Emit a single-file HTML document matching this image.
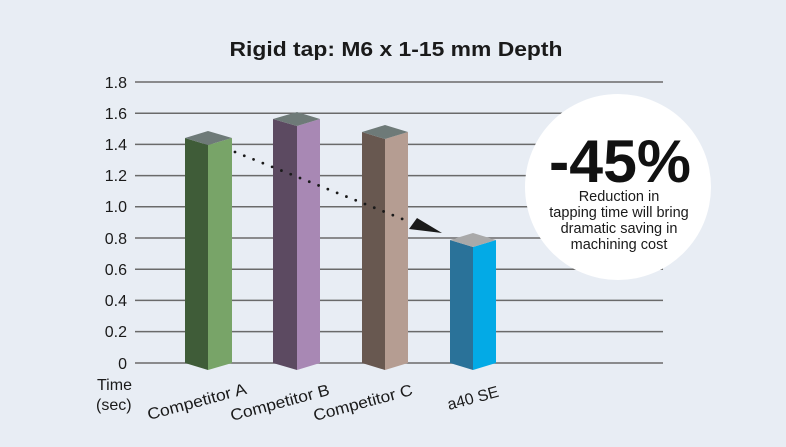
<!DOCTYPE html>
<html><head><meta charset="utf-8"><style>
html,body{margin:0;padding:0;background:#e8edf4;}
svg{display:block;font-family:"Liberation Sans",sans-serif;}
</style></head><body>
<svg width="786" height="447" viewBox="0 0 786 447">
<rect width="786" height="447" fill="#e8edf4"/>
<text x="396" y="56" text-anchor="middle" font-size="20" font-weight="bold" fill="#1a1a1a" textLength="333" lengthAdjust="spacingAndGlyphs">Rigid tap: M6 x 1-15 mm Depth</text>
<g stroke="#6a6a6a" stroke-width="1.5">
<line x1="135" y1="82" x2="663" y2="82"/><line x1="135" y1="113.2" x2="663" y2="113.2"/>
<line x1="135" y1="144.4" x2="663" y2="144.4"/><line x1="135" y1="175.6" x2="663" y2="175.6"/>
<line x1="135" y1="206.8" x2="663" y2="206.8"/><line x1="135" y1="238" x2="663" y2="238"/>
<line x1="135" y1="269.2" x2="663" y2="269.2"/><line x1="135" y1="300.4" x2="663" y2="300.4"/>
<line x1="135" y1="331.6" x2="663" y2="331.6"/><line x1="135" y1="363" x2="663" y2="363"/>
</g>
<g font-size="16" fill="#1a1a1a" text-anchor="end">
<text x="127" y="88">1.8</text><text x="127" y="119">1.6</text><text x="127" y="150">1.4</text>
<text x="127" y="181">1.2</text><text x="127" y="212">1.0</text><text x="127" y="244">0.8</text>
<text x="127" y="275">0.6</text><text x="127" y="306">0.4</text><text x="127" y="337">0.2</text>
<text x="127" y="369">0</text>
</g>
<g>
<polygon points="185,138 208,145 208,370 185,363" fill="#3f5c38"/>
<polygon points="208,145 232,138 232,363 208,370" fill="#78a468"/>
<polygon points="185,138 208,131 232,138 208,145" fill="#6e7a78"/>
<polygon points="273,119 297,126 297,370 273,363" fill="#5c4a61"/>
<polygon points="297,126 320,119 320,363 297,370" fill="#a888b4"/>
<polygon points="273,119 297,112 320,119 297,126" fill="#6e7a78"/>
<polygon points="362,132 385,139 385,370 362,363" fill="#685850"/>
<polygon points="385,139 408,132 408,363 385,370" fill="#b59d92"/>
<polygon points="362,132 385,125 408,132 385,139" fill="#6e7a78"/>
<polygon points="450,240 473,247 473,370 450,363" fill="#2a7299"/>
<polygon points="473,247 496,240 496,363 473,370" fill="#03aae6"/>
<polygon points="450,240 473,233 496,240 473,247" fill="#a9a9a9"/>
</g>
<line x1="235" y1="152" x2="410" y2="222" stroke="#1a1a1a" stroke-width="2.8" stroke-dasharray="0 10" stroke-linecap="round"/>
<polygon points="442,233 417,218 409,229" fill="#1a1a1a"/>
<circle cx="618" cy="187" r="93" fill="#ffffff"/>
<text x="620" y="182" text-anchor="middle" font-size="60" font-weight="bold" fill="#111" textLength="142" lengthAdjust="spacingAndGlyphs">-45%</text>
<g font-size="14.5" fill="#1a1a1a" text-anchor="middle">
<text x="619" y="201">Reduction in</text>
<text x="619" y="217">tapping time will bring</text>
<text x="619" y="233">dramatic saving in</text>
<text x="619" y="249">machining cost</text>
</g>
<g font-size="16" fill="#1a1a1a">
<text x="97" y="390">Time</text>
<text x="96" y="410">(sec)</text>
<text transform="translate(149,420) rotate(-15)" textLength="102" lengthAdjust="spacingAndGlyphs">Competitor A</text>
<text transform="translate(232,421) rotate(-15)" textLength="102" lengthAdjust="spacingAndGlyphs">Competitor B</text>
<text transform="translate(315,421) rotate(-15)" textLength="102" lengthAdjust="spacingAndGlyphs">Competitor C</text>
<text transform="translate(449,410) rotate(-15)">a40 SE</text>
</g>
</svg>
</body></html>
